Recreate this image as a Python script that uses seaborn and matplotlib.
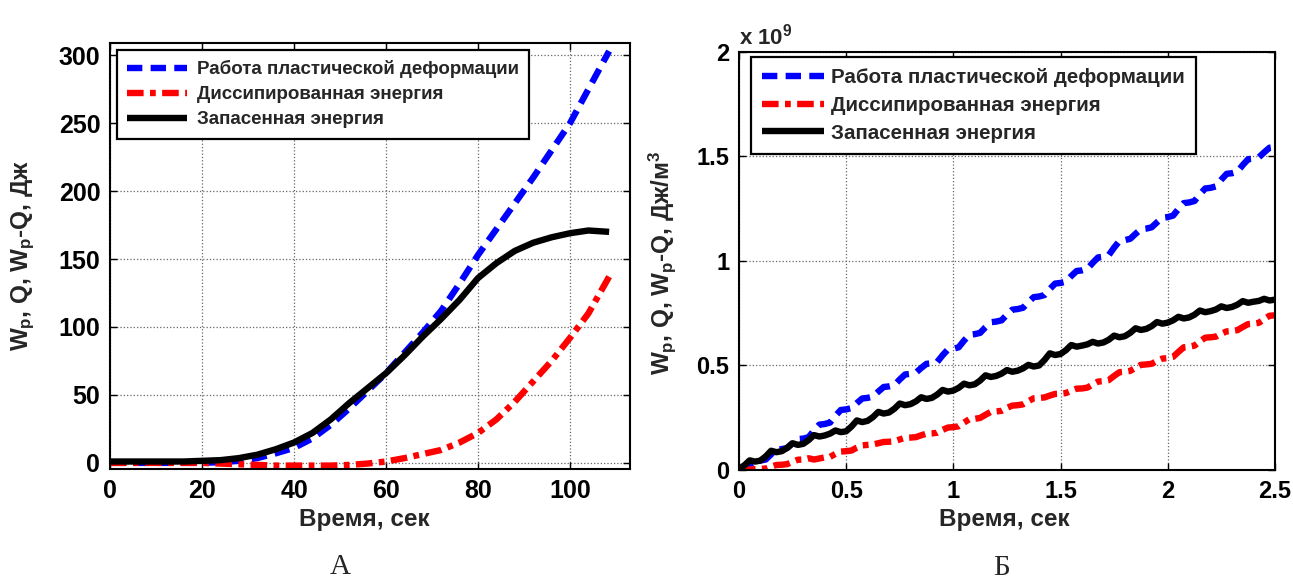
import numpy as np
import pandas as pd
import matplotlib
matplotlib.use("Agg")
import matplotlib.pyplot as plt
import seaborn as sns

# ---------------- data: panel A (whole specimen, J) ----------------
t_a = [0, 4, 8, 12, 16, 20, 24, 28, 32, 36, 40, 44, 48, 52, 56, 60, 64, 68,
       72, 76, 80, 84, 88, 92, 96, 100, 104, 108.5]
wp_a = [0, 0, 0, 0, 0, 0, 0.5, 1.5, 3.5, 7, 11, 18, 28, 40, 53, 66, 81, 96,
        112, 132, 153, 172, 191, 210, 230, 250, 275, 303]
q_a = [0, 0, 0, 0, 0, 0, -0.5, -1, -1.5, -2, -2, -2, -2, -1.5, -0.5, 1, 3.5,
       6.5, 9.5, 15, 22, 32, 45, 60, 75, 92, 110, 137]
ws_a = [1, 1, 1, 1, 1, 1.5, 2, 3.5, 6, 10, 15, 22, 32, 44, 55, 66, 79, 93,
        106, 120, 136, 147, 156, 162, 166, 169, 171, 170]

# ---------------- data: panel B (per unit volume, x 1e9 J/m^3) ----------------
t_b = np.round(np.arange(0, 2.5001, 0.025), 3)
wp_b = [0.000, 0.005, 0.025, 0.043, 0.045, 0.050, 0.075, 0.097,
        0.100, 0.105, 0.128, 0.148, 0.150, 0.157, 0.189, 0.217,
        0.220, 0.227, 0.259, 0.287, 0.290, 0.296, 0.320, 0.342,
        0.345, 0.351, 0.375, 0.397, 0.400, 0.406, 0.433, 0.457,
        0.460, 0.465, 0.488, 0.508, 0.510, 0.517, 0.549, 0.577,
        0.580, 0.587, 0.619, 0.647, 0.650, 0.656, 0.683, 0.707,
        0.710, 0.716, 0.743, 0.767, 0.770, 0.776, 0.803, 0.827,
        0.830, 0.837, 0.866, 0.892, 0.895, 0.901, 0.928, 0.952,
        0.955, 0.962, 0.991, 1.017, 1.020, 1.028, 1.064, 1.096,
        1.100, 1.106, 1.130, 1.152, 1.155, 1.161, 1.185, 1.207,
        1.210, 1.217, 1.249, 1.277, 1.280, 1.287, 1.319, 1.347,
        1.350, 1.357, 1.389, 1.417, 1.420, 1.427, 1.459, 1.487,
        1.490, 1.496, 1.520, 1.542, 1.545]
q_b = [0.000, 0.000, 0.002, 0.004, 0.005, 0.007, 0.016, 0.024,
       0.025, 0.028, 0.039, 0.049, 0.050, 0.056, 0.050, 0.055,
       0.060, 0.063, 0.077, 0.088, 0.090, 0.093, 0.107, 0.118,
       0.120, 0.122, 0.128, 0.134, 0.135, 0.137, 0.146, 0.154,
       0.155, 0.157, 0.166, 0.174, 0.175, 0.178, 0.192, 0.203,
       0.205, 0.209, 0.227, 0.243, 0.245, 0.249, 0.264, 0.278,
       0.280, 0.283, 0.297, 0.308, 0.310, 0.314, 0.329, 0.343,
       0.345, 0.347, 0.356, 0.364, 0.365, 0.368, 0.379, 0.389,
       0.390, 0.394, 0.409, 0.423, 0.425, 0.430, 0.450, 0.468,
       0.470, 0.474, 0.489, 0.503, 0.505, 0.508, 0.522, 0.533,
       0.535, 0.541, 0.565, 0.587, 0.590, 0.595, 0.615, 0.633,
       0.635, 0.638, 0.652, 0.663, 0.665, 0.669, 0.684, 0.698,
       0.700, 0.704, 0.722, 0.738, 0.740]
ws_b = [0.005, 0.022, 0.046, 0.040, 0.045, 0.065, 0.092, 0.085,
        0.090, 0.106, 0.128, 0.120, 0.125, 0.143, 0.167, 0.160,
        0.165, 0.174, 0.189, 0.181, 0.185, 0.208, 0.237, 0.229,
        0.235, 0.253, 0.278, 0.270, 0.275, 0.293, 0.318, 0.310,
        0.315, 0.328, 0.348, 0.340, 0.345, 0.361, 0.383, 0.375,
        0.380, 0.393, 0.413, 0.405, 0.410, 0.428, 0.453, 0.445,
        0.450, 0.461, 0.478, 0.470, 0.475, 0.486, 0.503, 0.495,
        0.500, 0.526, 0.558, 0.550, 0.555, 0.573, 0.598, 0.590,
        0.595, 0.601, 0.613, 0.605, 0.610, 0.623, 0.643, 0.635,
        0.640, 0.656, 0.678, 0.670, 0.675, 0.688, 0.708, 0.700,
        0.705, 0.716, 0.733, 0.725, 0.730, 0.743, 0.763, 0.755,
        0.760, 0.768, 0.783, 0.775, 0.780, 0.791, 0.808, 0.800,
        0.805, 0.809, 0.819, 0.811, 0.815]

series_names = ["Работа пластической деформации",
                "Диссипированная энергия",
                "Запасенная энергия"]

xticks_a = [0, 20, 40, 60, 80, 100]
yticks_a = [0, 50, 100, 150, 200, 250, 300]
xticks_b = [0, 0.5, 1, 1.5, 2, 2.5]
xticklabels_b = ["0", "0.5", "1", "1.5", "2", "2.5"]
yticks_b = [0, 0.5, 1, 1.5, 2]
yticklabels_b = ["0", "0.5", "1", "1.5", "2"]

# ---------------- styling ----------------
sns.set_theme(style="white")
plt.rcParams["font.family"] = ["Liberation Sans", "DejaVu Sans"]
plt.rcParams["font.weight"] = "bold"
plt.rcParams["mathtext.fontset"] = "custom"
plt.rcParams["mathtext.rm"] = "Liberation Sans:bold"
plt.rcParams["mathtext.it"] = "Liberation Sans:bold"
plt.rcParams["mathtext.bf"] = "Liberation Sans:bold"

LW = 4.6
styles = [
    dict(color="#0000ff", linestyle=(0, (2.4, 1.3))),
    dict(color="#ff0000", linestyle=(0, (2.6, 1.0, 0.9, 1.0))),
    dict(color="#000000", linestyle="-"),
]

fig = plt.figure(figsize=(12.93, 5.79), dpi=100)
ax_a = fig.add_axes([0.0851, 0.190, 0.402, 0.7358])
ax_b = fig.add_axes([0.5715, 0.1883, 0.4145, 0.7219])


def draw(ax, t, curves, leg_size, leg_anchor, handlelen, textpad):
    df = pd.DataFrame({"t": t})
    for name, vals, st in zip(series_names, curves, styles):
        df[name] = vals
        sns.lineplot(data=df, x="t", y=name, ax=ax, linewidth=LW,
                     estimator=None, sort=False, label=name,
                     solid_capstyle="butt", dash_capstyle="butt", **st)
    ax.grid(True, linestyle=":", color="#666666", linewidth=0.9)
    for sp in ax.spines.values():
        sp.set_color("black")
        sp.set_linewidth(1.5)
    ax.tick_params(direction="in", length=5, width=1, top=True, right=True,
                   bottom=True, left=True, colors="black", pad=7)
    leg = ax.legend(loc="upper left", bbox_to_anchor=leg_anchor,
                    bbox_transform=fig.transFigure, borderaxespad=0,
                    frameon=True, fancybox=False, framealpha=1,
                    edgecolor="black", handlelength=handlelen,
                    handletextpad=textpad, labelspacing=0.42, borderpad=0.55,
                    prop=dict(size=leg_size, weight="bold"))
    leg.get_frame().set_linewidth(1.6)


draw(ax_a, t_a, [wp_a, q_a, ws_a], 13.5, (117 / 1293, 1 - 50 / 579), 3.2, 0.5)
draw(ax_b, t_b, [wp_b, q_b, ws_b], 14.8, (751 / 1293, 1 - 57 / 579), 3.0, 0.35)

# panel A axes
ax_a.set_xlim(0, 113)
ax_a.set_ylim(-4.5, 309)
ax_a.set_xticks(xticks_a)
ax_a.set_yticks(yticks_a)
ax_a.tick_params(labelsize=18)
ax_a.set_xlabel("Время, сек", fontsize=17.5, fontweight="bold")
ax_a.set_ylabel(r"$W_p$, Q, $W_p$-Q, Дж", fontsize=17.5, fontweight="bold")
ax_a.xaxis.set_label_coords(0.49, -0.092)
ax_a.yaxis.set_label_coords(-0.14, 0.5)

# panel B axes
ax_b.set_xlim(0, 2.5)
ax_b.set_ylim(0, 2)
ax_b.set_xticks(xticks_b, xticklabels_b)
ax_b.set_yticks(yticks_b, yticklabels_b)
ax_b.tick_params(labelsize=17)
ax_b.set_xlabel("Время, сек", fontsize=17.5, fontweight="bold")
ax_b.set_ylabel(r"$W_p$, Q, $W_p$-Q, Дж/м$^3$", fontsize=17.5, fontweight="bold")
ax_b.xaxis.set_label_coords(0.496, -0.091)
ax_b.yaxis.set_label_coords(-0.114, 0.495)
ax_b.text(0.0, 1.006, r"x 10$^9$", transform=ax_b.transAxes, fontsize=16,
          fontweight="bold", ha="left", va="bottom")

for lab in ax_a.get_xticklabels() + ax_a.get_yticklabels() + \
        ax_b.get_xticklabels() + ax_b.get_yticklabels():
    lab.set_fontweight("bold")

# panel captions
fig.text(340 / 1293, 1 - 567 / 579, "А", fontsize=21, ha="center", va="center",
         family="Liberation Serif", fontweight="normal")
fig.text(1002 / 1293, 1 - 568 / 579, "Б", fontsize=21, ha="center", va="center",
         family="Liberation Serif", fontweight="normal")

fig.savefig("out.png", dpi=100)
